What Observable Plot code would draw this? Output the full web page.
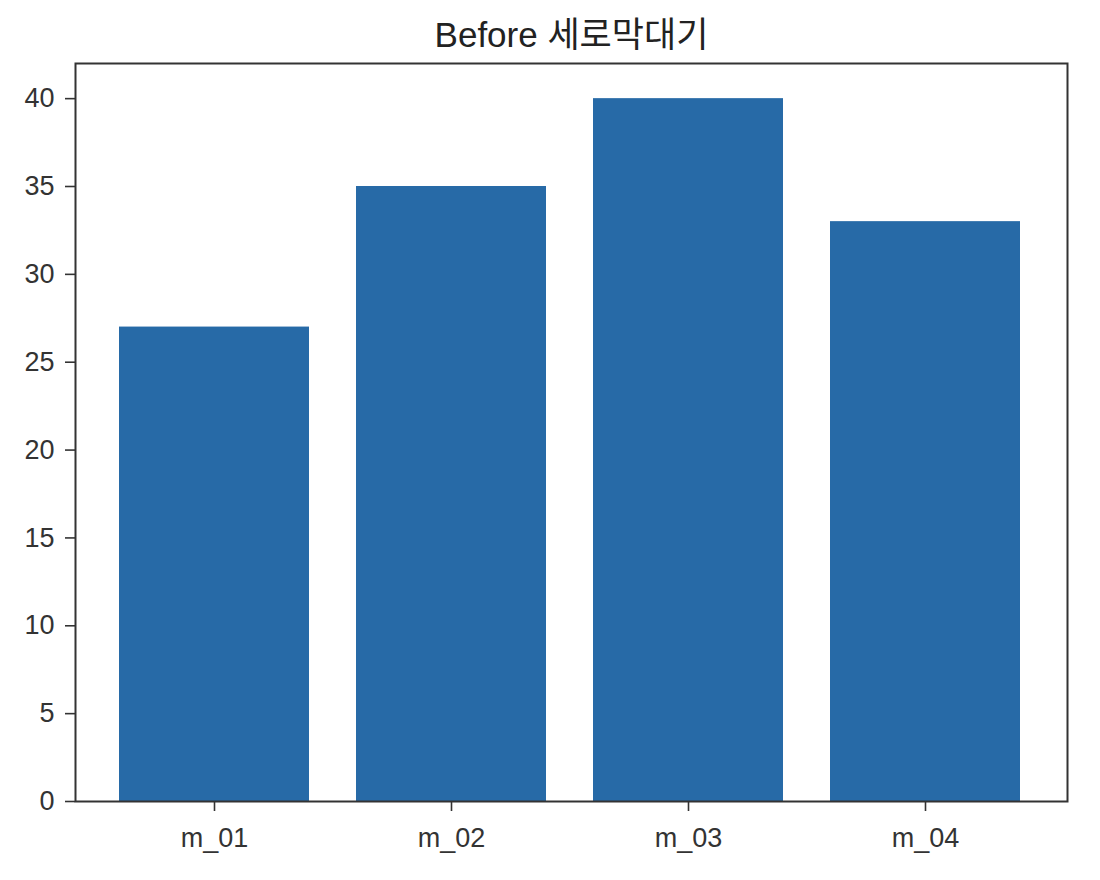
<!DOCTYPE html>
<html>
<head>
<meta charset="utf-8">
<script src="https://cdn.jsdelivr.net/npm/d3@7"></script>
<script src="https://cdn.jsdelivr.net/npm/@observablehq/plot@0.6"></script>
<style>
  body { margin: 0; background: #fff; }
  #chart svg { display: block; }
</style>
</head>
<body>
<div id="chart"></div>
<script>
const categories = ["m_01", "m_02", "m_03", "m_04"];
const values = [27, 35, 40, 33];
const yTicks = [0, 5, 10, 15, 20, 25, 30, 35, 40];
const title = "Before 세로막대기";

const data = categories.map((c, i) => ({name: c, value: values[i]}));
const font = "'Liberation Sans', 'Noto Sans CJK KR', sans-serif";

const chart = Plot.plot({
  width: 1100,
  height: 880,
  marginLeft: 75,
  marginRight: 33,
  marginTop: 63,
  marginBottom: 79,
  style: {fontFamily: font, fontSize: "27px", color: "#333"},
  x: {domain: categories, paddingInner: 0.2, paddingOuter: 0.19, align: 0.48, label: null},
  y: {domain: [0, 42], ticks: yTicks, label: null},
  marks: [
    Plot.barY(data, {x: "name", y: "value", fill: "#276aa7"}),
    Plot.axisY({ticks: yTicks, tickSize: 10, tickPadding: 11, stroke: "#333", strokeWidth: 1.6, fill: "#333", fontSize: 27, label: null}),
    Plot.axisX({tickSize: 10, tickPadding: 16, stroke: "#333", strokeWidth: 1.6, fill: "#333", fontSize: 27, label: null}),
    Plot.frame({stroke: "#333", strokeWidth: 2}),
    Plot.text([title], {frameAnchor: "top", lineAnchor: "middle", dy: -28, fontSize: 35, fill: "#222"})
  ]
});
document.getElementById("chart").appendChild(chart);
</script>
</body>
</html>
